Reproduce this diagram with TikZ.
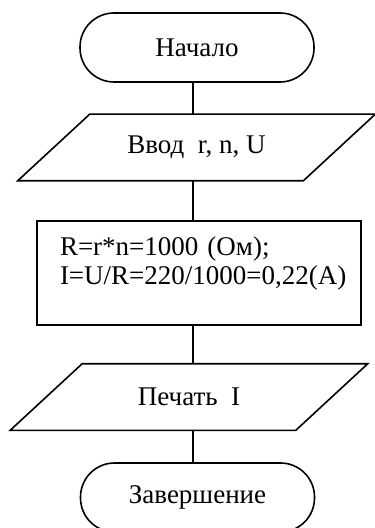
\documentclass[tikz,border=0pt]{standalone}
\usepackage{fontspec}
\setmainfont{Liberation Serif}
\tikzset{
  term/.style={draw, rounded corners=17pt, minimum width=117pt, minimum height=34.5pt},
  io/.style={minimum width=178pt, minimum height=32.5pt},
  proc/.style={draw, text width=139pt, inner xsep=11.5pt, minimum height=52pt,
    align=left, text height=9pt, text depth=26pt},
}
\begin{document}
\begin{tikzpicture}[x=0.5pt, y=-0.5pt, line width=0.8pt, font=\fontsize{13.5pt}{14.5pt}\selectfont]
\useasboundingbox (0,0) rectangle (374,528);
\coordinate (axis) at (193,0);
\node[term] (start) at (197,47.5) {Начало};
\node[io] (in) at (196.5,147.5) {Ввод~~r, n, U};
\node[proc] (calc) at (199,273) {R=r*n=1000 (Ом);\\ I=U/R=220/1000=0,22(A)};
\node[io] (out) at (189,397) {Печать~~I};
\node[term] (stop) at (197.5,497.5) {Завершение};
% parallelograms
\foreach \n in {in,out}
  \draw (\n.south west) -- ([xshift=-36pt]\n.south east) -- (\n.north east)
    -- ([xshift=36pt]\n.north west) -- cycle;
% connectors
\foreach \a/\b in {start/in,in/calc,calc/out,out/stop}
  \draw (\a.south -| axis) -- (\b.north -| axis);
\end{tikzpicture}
\end{document}
